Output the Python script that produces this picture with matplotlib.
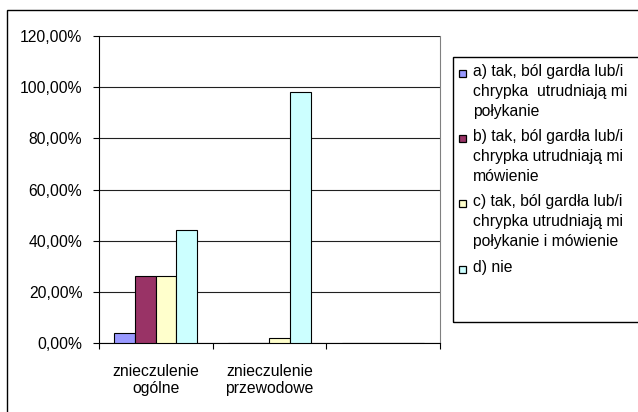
import matplotlib
matplotlib.use("Agg")
import matplotlib.pyplot as plt
from matplotlib.patches import Rectangle
from matplotlib.ticker import FuncFormatter, FixedLocator
import numpy as np

plt.rcParams['font.family'] = ['Liberation Sans', 'DejaVu Sans']

categories = ["znieczulenie\nogólne", "znieczulenie\nprzewodowe", ""]
series_labels = [
    "a) tak, ból gardła lub/i\nchrypka  utrudniają mi\npołykanie",
    "b) tak, ból gardła lub/i\nchrypka utrudniają mi\nmówienie",
    "c) tak, ból gardła lub/i\nchrypka utrudniają mi\npołykanie i mówienie",
    "d) nie",
]
values_a = [0.04, 0.0, 0.0]
values_b = [0.26, 0.0, 0.0]
values_c = [0.26, 0.02, 0.0]
values_d = [0.44, 0.98, 0.0]
colors = ["#9999FF", "#993366", "#FFFFCC", "#CCFFFF"]

W, H = 638, 412
fig = plt.figure(figsize=(W / 100, H / 100), dpi=100)

def px(x0, y0, x1, y1):
    # pixel box (top-left origin) -> figure fraction rect
    return [x0 / W, 1 - y1 / H, (x1 - x0) / W, (y1 - y0) / H]

# chart frame
fig.patches.append(Rectangle((7 / W, -0.1), 1.1, 1 - 10 / H + 0.1,
                             transform=fig.transFigure, fill=False,
                             edgecolor="black", linewidth=1.0))

ax = fig.add_axes(px(99, 36, 440, 343))
x = np.arange(len(categories))
n = 4
bw = 1 / 5.5
all_vals = [values_a, values_b, values_c, values_d]
for i, (vals, col) in enumerate(zip(all_vals, colors)):
    offs = (i - (n - 1) / 2) * bw
    ax.bar(x + offs, vals, width=bw, color=col, edgecolor="black",
           linewidth=0.8, zorder=3)

ax.set_xlim(-0.5, len(categories) - 0.5)
ax.set_ylim(0, 1.2)
ax.set_yticks(np.arange(0, 1.21, 0.2))
ax.yaxis.set_major_formatter(FuncFormatter(lambda v, p: f"{v * 100:.2f}%".replace(".", ",")))
ax.yaxis.grid(True, color="#202020", linewidth=0.8, zorder=0)

ax.xaxis.set_major_locator(FixedLocator(np.arange(-0.5, len(categories), 1.0)))
ax.xaxis.set_minor_locator(FixedLocator(x))
ax.set_xticklabels([], minor=False)
ax.set_xticklabels(categories, minor=True)
ax.tick_params(axis="x", which="minor", length=0, pad=15, labelsize=11.3)
ax.tick_params(axis="x", which="major", direction="out", length=4, width=0.8)
ax.tick_params(axis="y", direction="out", length=4, width=0.8, labelsize=11.3, pad=8)
for lbl in ax.get_xticklabels(minor=True):
    lbl.set_linespacing(1.2)

ax.spines["top"].set_visible(False)
ax.spines["right"].set_color("#808080")
ax.spines["left"].set_color("black")
ax.spines["bottom"].set_color("black")
ax.spines["left"].set_linewidth(0.8)
ax.spines["bottom"].set_linewidth(0.8)

# legend box
fig.patches.append(Rectangle((453 / W, 1 - 322 / H), 0.5, (322 - 57) / H,
                             transform=fig.transFigure, fill=False,
                             edgecolor="black", linewidth=1.0))
entry_y = [73, 138, 203, 269]
for lab, col, ey in zip(series_labels, colors, entry_y):
    fig.patches.append(Rectangle((459 / W, 1 - (ey + 4) / H), 7 / W, 7 / H,
                                 transform=fig.transFigure, facecolor=col,
                                 edgecolor="black", linewidth=0.9))
    fig.text(473 / W, 1 - (ey - 9) / H, lab, fontsize=11.3, va="top", ha="left",
             linespacing=1.4)

fig.savefig("out.png", dpi=100)
